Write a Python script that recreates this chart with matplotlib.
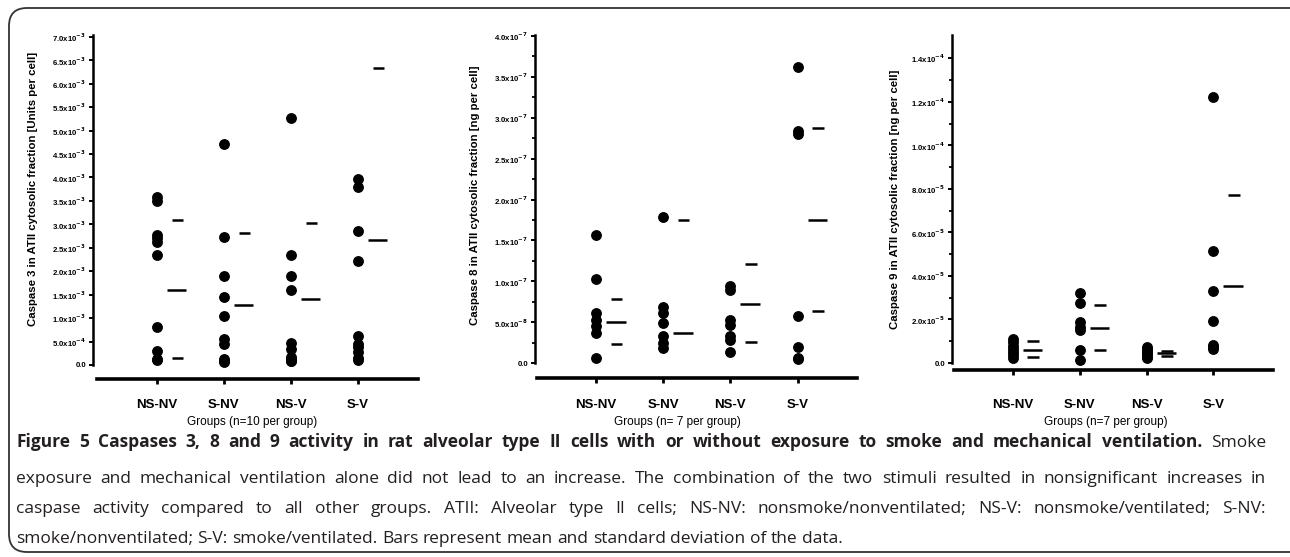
import matplotlib.pyplot as plt
import numpy as np
from matplotlib.patches import FancyBboxPatch

plt.rcParams['font.family'] = ['Liberation Sans', 'DejaVu Sans']
plt.rcParams['mathtext.default'] = 'bf'

groups = ['NS-NV', 'S-NV', 'NS-V', 'S-V']
nan = np.nan

# Caspase 3 (values in units of 1e-3 Units per cell)
c3_nsnv = [3.58, 3.50, 2.78, 2.70, 2.62, 2.35, 0.82, 0.30, 0.12, 0.10]
c3_snv = [4.71, 2.74, 1.90, 1.46, 1.04, 0.55, 0.45, 0.12, 0.08, 0.06]
c3_nsv = [5.27, 2.35, 1.90, 1.60, 0.46, 0.33, 0.18, 0.12, 0.09, 0.08]
c3_sv = [3.96, 3.80, 2.86, 2.22, 0.62, 0.45, 0.38, 0.28, 0.15, 0.10]
c3_mean = [1.60, 1.28, 1.40, 2.67]
c3_upper = [3.09, 2.81, 3.03, 6.33]
c3_lower = [0.14, nan, nan, nan]
c3_ticks = [0, 0.5, 1.0, 1.5, 2.0, 2.5, 3.0, 3.5, 4.0, 4.5, 5.0, 5.5, 6.0, 6.5, 7.0]
c3_ticklabels = ['0.0', '5.0x10$^{-4}$', '1.0x10$^{-3}$', '1.5x10$^{-3}$', '2.0x10$^{-3}$',
                 '2.5x10$^{-3}$', '3.0x10$^{-3}$', '3.5x10$^{-3}$', '4.0x10$^{-3}$', '4.5x10$^{-3}$',
                 '5.0x10$^{-3}$', '5.5x10$^{-3}$', '6.0x10$^{-3}$', '6.5x10$^{-3}$', '7.0x10$^{-3}$']

# Caspase 8 (values in units of 1e-7 ng per cell)
c8_nsnv = [1.57, 1.03, 0.61, 0.53, 0.45, 0.37, 0.07]
c8_snv = [1.79, 0.69, 0.61, 0.49, 0.33, 0.25, 0.19]
c8_nsv = [0.94, 0.89, 0.53, 0.47, 0.33, 0.29, 0.14]
c8_sv = [3.62, 2.84, 2.80, 0.58, 0.20, 0.06, 0.05]
c8_mean = [0.51, 0.37, 0.72, 1.75]
c8_upper = [0.78, 1.75, 1.21, 2.87]
c8_lower = [0.24, nan, 0.26, 0.64]
c8_ticks = [0, 0.5, 1.0, 1.5, 2.0, 2.5, 3.0, 3.5, 4.0]
c8_ticklabels = ['0.0', '5.0x10$^{-8}$', '1.0x10$^{-7}$', '1.5x10$^{-7}$', '2.0x10$^{-7}$',
                 '2.5x10$^{-7}$', '3.0x10$^{-7}$', '3.5x10$^{-7}$', '4.0x10$^{-7}$']

# Caspase 9 (values in units of 1e-5 ng per cell)
c9_nsnv = [1.10, 0.95, 0.80, 0.65, 0.50, 0.35, 0.25]
c9_snv = [3.20, 2.74, 1.90, 1.67, 1.52, 0.61, 0.15]
c9_nsv = [0.75, 0.65, 0.55, 0.45, 0.40, 0.30, 0.25]
c9_sv = [12.2, 5.15, 3.30, 1.93, 0.84, 0.72, 0.65]
c9_mean = [0.61, 1.63, 0.47, 3.52]
c9_upper = [1.02, 2.66, 0.56, 7.72]
c9_lower = [0.26, 0.61, 0.33, nan]
c9_ticks = [0, 2, 4, 6, 8, 10, 12, 14]
c9_ticklabels = ['0.0', '2.0x10$^{-5}$', '4.0x10$^{-5}$', '6.0x10$^{-5}$', '8.0x10$^{-5}$',
                 '1.0x10$^{-4}$', '1.2x10$^{-4}$', '1.4x10$^{-4}$']

ylabels = ['Caspase 3 in ATII cytosolic fraction [Units per cell]',
           'Caspase 8 in ATII cytosolic fraction [ng per cell]',
           'Caspase 9 in ATII cytosolic fraction [ng per cell]']
xlabels = ['Groups (n=10 per group)', 'Groups (n= 7 per group)', 'Groups (n=7 per group)']

caption_lines = [
    [('Figure 5 Caspases 3, 8 and 9 activity in rat alveolar type II cells with or without exposure '
      'to smoke and mechanical ventilation.', 'bold'), ('Smoke', 'normal')],
    [('exposure and mechanical ventilation alone did not lead to an increase. The combination of the '
      'two stimuli resulted in nonsignificant increases in', 'normal')],
    [('caspase activity compared to all other groups. ATII: Alveolar type II cells; NS-NV: '
      'nonsmoke/nonventilated; NS-V: nonsmoke/ventilated; S-NV:', 'normal')],
    [('smoke/nonventilated; S-V: smoke/ventilated. Bars represent mean and standard deviation of the data.',
      'normal')],
]

W, H = 1290, 557
fig = plt.figure(figsize=(W / 100, H / 100), dpi=100)

# pixel-coordinate background layer for frame, labels and caption
bg = fig.add_axes([0, 0, 1, 1], zorder=-1)
bg.set_xlim(0, W)
bg.set_ylim(H, 0)
bg.axis('off')
bg.add_patch(FancyBboxPatch((9, 8), W + 20, 544, boxstyle='round,pad=0,rounding_size=18',
                            fc='white', ec='#333333', lw=1.3))


def px_axes(left, top, right, bottom):
    return fig.add_axes([left / W, 1 - bottom / H, (right - left) / W, (bottom - top) / H])


def draw_panel(ax, data, mean, upper, lower, ticks, ticklabels, minor, ylim, xlim, xstart, pad):
    for i, vals in enumerate(data):
        ax.plot([i] * len(vals), vals, 'o', color='black', ms=6.8, clip_on=False)
    x = np.arange(len(groups))
    ax.hlines(mean, x + 0.15, x + 0.44, color='black', lw=1.8)
    ax.hlines(upper, x + 0.22, x + 0.39, color='black', lw=1.8)
    ax.hlines(lower, x + 0.22, x + 0.39, color='black', lw=1.8)
    ax.set_ylim(ylim)
    ax.set_xlim(xlim)
    ax.set_yticks(ticks)
    ax.set_yticklabels(ticklabels, fontsize=5.6, fontweight='bold')
    if minor is not None:
        ax.set_yticks(minor, minor=True)
        ax.tick_params(axis='y', which='minor', length=2.2, width=1.3)
    ax.set_xticks(x)
    ax.set_xticklabels(groups, fontsize=9.5, fontweight='bold')
    ax.tick_params(axis='y', which='major', length=3, width=1.4, pad=2)
    ax.tick_params(axis='x', length=3.6, width=2, pad=pad)
    for s in ['top', 'right']:
        ax.spines[s].set_visible(False)
    ax.spines['left'].set_linewidth(1.8)
    ax.spines['left'].set_bounds(0, ylim[1])
    ax.spines['bottom'].set_linewidth(2.6)
    ax.spines['bottom'].set_bounds(xstart, xlim[1])
    ax.patch.set_alpha(0)


ax1 = px_axes(93, 35, 418, 379)
draw_panel(ax1, [c3_nsnv, c3_snv, c3_nsv, c3_sv], c3_mean, c3_upper, c3_lower,
           c3_ticks, c3_ticklabels, None, (-0.30, 7.04), (-0.955, 3.896), -0.896, 10.5)

ax2 = px_axes(535, 35, 857, 378)
draw_panel(ax2, [c8_nsnv, c8_snv, c8_nsv, c8_sv], c8_mean, c8_upper, c8_lower,
           c8_ticks, c8_ticklabels, [0.25, 0.75, 1.25, 1.75, 2.25, 2.75, 3.25, 3.75],
           (-0.18, 4.01), (-0.908, 3.884), -0.878, 11.2)

ax3 = px_axes(952, 35, 1273, 370)
draw_panel(ax3, [c9_nsnv, c9_snv, c9_nsv, c9_sv], c9_mean, c9_upper, c9_lower,
           c9_ticks, c9_ticklabels, [1, 3, 5, 7, 9, 11, 13],
           (-0.32, 15.07), (-0.907, 3.89), -0.877, 17)

# axis titles
for xc, yc, lab in zip([33, 475, 895], [189, 195, 199], ylabels):
    bg.text(xc, yc, lab, rotation=90, ha='center', va='center', fontsize=8.2, fontweight='bold')
for xc, lab in zip([252, 677, 1106], xlabels):
    bg.text(xc, 422, lab, ha='center', va='center', fontsize=8.5)

# caption, justified like the journal layout
renderer = fig.canvas.get_renderer()
cap_font = ['Open Sans', 'DejaVu Sans']
cap_size = 12.5
x0, x1 = 16, 1266
baselines = [447, 483, 513, 543]

# width of a normal space in this font
t1 = bg.text(0, 0, 'a a', fontsize=cap_size, family=cap_font)
t2 = bg.text(0, 0, 'aa', fontsize=cap_size, family=cap_font)
space = t1.get_window_extent(renderer).width - t2.get_window_extent(renderer).width
t1.remove()
t2.remove()

for n, (line, yb) in enumerate(zip(caption_lines, baselines)):
    words = []
    for chunk, weight in line:
        words += [(w, weight) for w in chunk.split(' ')]
    objs = [bg.text(0, yb, w, fontsize=cap_size, fontweight=wt, family=cap_font, color='#231f20',
                    va='baseline') for w, wt in words]
    widths = [o.get_window_extent(renderer).width for o in objs]
    if n < len(caption_lines) - 1:
        gap = (x1 - x0 - sum(widths)) / (len(objs) - 1)
    else:
        gap = space
    xp = x0
    for o, w in zip(objs, widths):
        o.set_x(xp)
        xp += w + gap

fig.savefig('out.png', dpi=100)
